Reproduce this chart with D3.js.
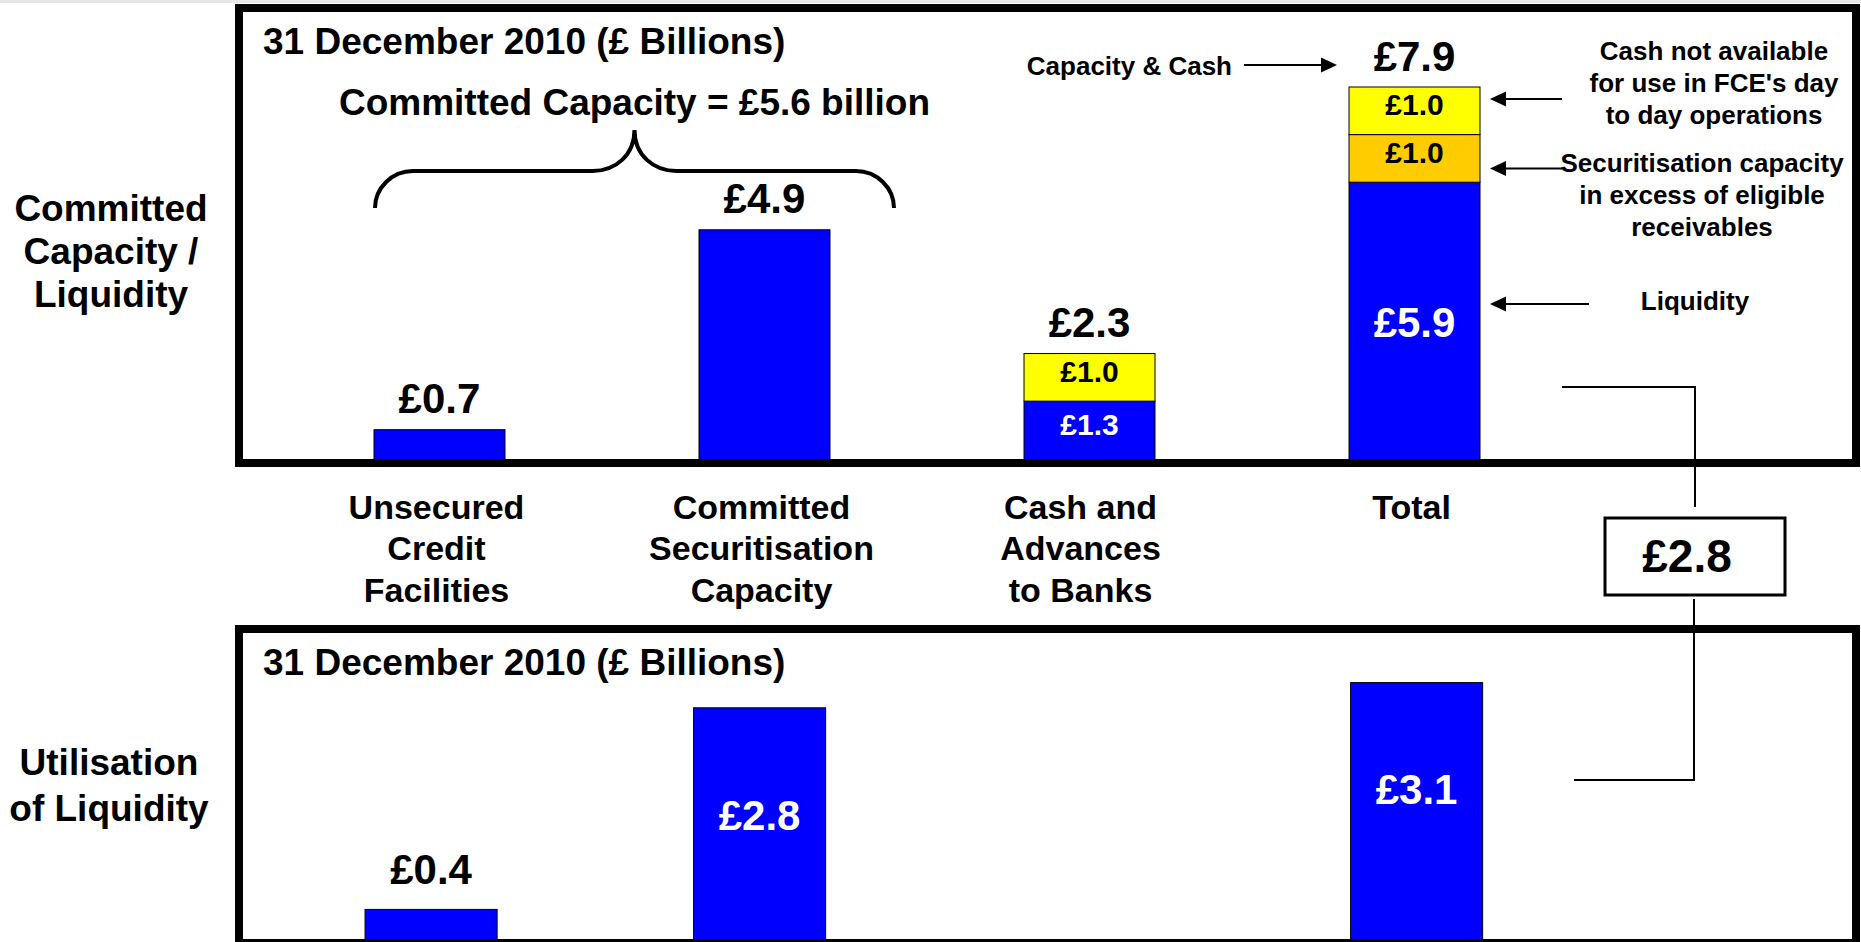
<!DOCTYPE html>
<html><head><meta charset="utf-8">
<script src="https://cdn.jsdelivr.net/npm/d3@7"></script>
<style>
html,body{margin:0;padding:0;background:#fff;overflow:hidden}
svg{display:block}
text{font-family:"Liberation Sans",Arial,Helvetica,sans-serif;font-weight:bold;fill:#000}
</style></head><body>
<svg id="chart" width="1861" height="942"></svg>
<script>
// ---------- data ----------
const categories = ["Unsecured Credit Facilities", "Committed Securitisation Capacity", "Cash and Advances to Banks", "Total"];
const categoryLines = [["Unsecured", "Credit", "Facilities"], ["Committed", "Securitisation", "Capacity"], ["Cash and", "Advances", "to Banks"], ["Total"]];
const liquidity = [0.7, 4.9, 1.3, 5.9];        // blue
const excessCapacity = [0, 0, 0, 1.0];         // orange: securitisation capacity in excess of eligible receivables
const restrictedCash = [0, 0, 1.0, 1.0];       // yellow: cash not available for day to day operations
const capacityTotals = [0.7, 4.9, 2.3, 7.9];
const utilisation = [0.4, 2.8, null, 3.1];
const headroom = 2.8;
const committedCapacity = 5.6;
const panelTitle = "31 December 2010 (£ Billions)";
const topPanelLabel = ["Committed", "Capacity /", "Liquidity"];
const bottomPanelLabel = ["Utilisation", "of Liquidity"];
const noteCash = ["Cash not available", "for use in FCE's day", "to day operations"];
const noteExcess = ["Securitisation capacity", "in excess of eligible", "receivables"];

// ---------- setup ----------
const W = 1861, H = 942;
const svg = d3.select("#chart");
const fmt = v => "£" + d3.format(".1f")(v);
svg.append("rect").attr("x", 0).attr("y", 0).attr("width", W).attr("height", 3).attr("fill", "#e6e6e6");

const xTop = d3.scaleBand().domain(categories).range([276.5, 1577.5]).paddingInner(0.597).paddingOuter(0.3);
const yTop = d3.scaleLinear().domain([0, 7.9]).range([463, 87]);
const xBot = d3.scaleBand().domain(categories).range([266.5, 1581.2]).paddingInner(0.598).paddingOuter(0.3);
const yBot = d3.scaleLinear().domain([0, 3.1]).range([943, 682.6]);

const colors = {liquidity: "#0000ff", excess: "#ffcc00", cash: "#ffff00"};
const rows = categories.map((c, i) => ({cat: c, liquidity: liquidity[i], excess: excessCapacity[i], cash: restrictedCash[i], n: [liquidity[i], excessCapacity[i], restrictedCash[i]].filter(v => v > 0).length}));
const series = d3.stack().keys(["liquidity", "excess", "cash"])(rows);

// ---------- top panel bars ----------
const gTop = svg.append("g");
series.forEach(s => {
  s.forEach(d => {
    const v = d[1] - d[0];
    if (v <= 0) return;
    gTop.append("rect")
      .attr("x", xTop(d.data.cat)).attr("width", xTop.bandwidth())
      .attr("y", yTop(d[1])).attr("height", yTop(d[0]) - yTop(d[1]))
      .attr("fill", colors[s.key]).attr("stroke", "#000").attr("stroke-width", 1);
    if (d.data.n > 1) {
      const top = yTop(d[1]), bot = Math.min(yTop(d[0]), 459);
      const big = (bot - top) > 150;
      gTop.append("text")
        .attr("x", xTop(d.data.cat) + xTop.bandwidth() / 2)
        .attr("y", (top + bot) / 2 + (big ? 2 : -6)).attr("dy", "0.35em")
        .attr("text-anchor", "middle")
        .style("font-size", big ? "42px" : "30px")
        .style("fill", s.key === "liquidity" ? "#fff" : "#000")
        .text(fmt(v));
    }
  });
});
// totals above bars
categories.forEach((c, i) => {
  gTop.append("text")
    .attr("x", xTop(c) + xTop.bandwidth() / 2)
    .attr("y", yTop(capacityTotals[i]) - 31).attr("dy", "0.35em")
    .attr("text-anchor", "middle").style("font-size", "42px")
    .text(fmt(capacityTotals[i]));
});
// panel frame
svg.append("rect").attr("x", 239).attr("y", 8).attr("width", 1617).attr("height", 455)
  .attr("fill", "none").attr("stroke", "#000").attr("stroke-width", 8);
svg.append("text").attr("x", 263).attr("y", 41).attr("dy", "0.35em").style("font-size", "37px").text(panelTitle);

// brace over the first two bars
const bl = xTop(categories[0]) + 1, br = xTop(categories[1]) + xTop.bandwidth() + 64, bm = (bl + br) / 2;
const by0 = 208, by1 = 171, by2 = 130;
const bp = d3.path();
bp.moveTo(bl, by0);
bp.bezierCurveTo(bl, by0 - 20, bl + 17, by1, bl + 38, by1);
bp.lineTo(bm - 42, by1);
bp.bezierCurveTo(bm - 19, by1, bm, by1 - 16, bm, by2);
bp.bezierCurveTo(bm, by1 - 16, bm + 19, by1, bm + 42, by1);
bp.lineTo(br - 38, by1);
bp.bezierCurveTo(br - 17, by1, br, by0 - 20, br, by0);
svg.append("path").attr("d", bp.toString()).attr("fill", "none").attr("stroke", "#000").attr("stroke-width", 4);
svg.append("text").attr("x", bm).attr("y", 102).attr("dy", "0.35em").attr("text-anchor", "middle")
  .style("font-size", "37px").text("Committed Capacity = " + fmt(committedCapacity) + " billion");

// ---------- category labels ----------
categories.forEach((c, i) => {
  const t = svg.append("text").attr("text-anchor", "middle").style("font-size", "34px");
  const shift = i === 2 ? -9 : -3;
  categoryLines[i].forEach((ln, j) => {
    t.append("tspan").attr("x", xTop(c) + xTop.bandwidth() / 2 + shift).attr("y", 507 + j * 41.5).attr("dy", "0.35em").text(ln);
  });
});

// left panel labels
topPanelLabel.forEach((ln, j) => {
  svg.append("text").attr("x", 111).attr("y", 208 + j * 43).attr("dy", "0.35em").attr("text-anchor", "middle").style("font-size", "37px").text(ln);
});
bottomPanelLabel.forEach((ln, j) => {
  svg.append("text").attr("x", 109).attr("y", 762 + j * 46).attr("dy", "0.35em").attr("text-anchor", "middle").style("font-size", "37px").text(ln);
});

// ---------- arrows & annotations ----------
function arrow(x1, x2, y) { // tip at x2
  const dir = x2 > x1 ? 1 : -1;
  svg.append("line").attr("x1", x1).attr("x2", x2 - dir * 12).attr("y1", y).attr("y2", y).attr("stroke", "#000").attr("stroke-width", 2);
  svg.append("path").attr("d", `M${x2},${y} L${x2 - dir * 16},${y - 7.5} L${x2 - dir * 16},${y + 7.5} Z`).attr("fill", "#000");
}
const totX = xTop("Total"), totR = totX + xTop.bandwidth();
svg.append("text").attr("x", 1232).attr("y", 66).attr("dy", "0.35em").attr("text-anchor", "end").style("font-size", "26px").text("Capacity & Cash");
arrow(1244, totX - 12, 65);

arrow(1562, totR + 10, yTop(7.9) + 12);
noteCash.forEach((ln, j) => svg.append("text").attr("x", 1714).attr("y", 51 + j * 32).attr("dy", "0.35em").attr("text-anchor", "middle").style("font-size", "26px").text(ln));
arrow(1562, totR + 10, (yTop(6.9) + yTop(5.9)) / 2 + 10);
noteExcess.forEach((ln, j) => svg.append("text").attr("x", 1702).attr("y", 163 + j * 32).attr("dy", "0.35em").attr("text-anchor", "middle").style("font-size", "26px").text(ln));
arrow(1589, totR + 10, 304);
svg.append("text").attr("x", 1695).attr("y", 301).attr("dy", "0.35em").attr("text-anchor", "middle").style("font-size", "26px").text("Liquidity");

// connector and headroom box
const conn = "#000";
svg.append("path").attr("d", "M1562,387 H1695 V507").attr("fill", "none").attr("stroke", conn).attr("stroke-width", 2);
svg.append("path").attr("d", "M1694,599 V780 H1574").attr("fill", "none").attr("stroke", conn).attr("stroke-width", 2);
svg.append("rect").attr("x", 1605).attr("y", 518).attr("width", 180).attr("height", 77).attr("fill", "#fff").attr("stroke", "#000").attr("stroke-width", 3);
svg.append("text").attr("x", 1687).attr("y", 556).attr("dy", "0.35em").attr("text-anchor", "middle").style("font-size", "46px").text(fmt(headroom));

// ---------- bottom panel ----------
const gBot = svg.append("g");
categories.forEach((c, i) => {
  const v = utilisation[i];
  if (v == null) return;
  gBot.append("rect").attr("x", xBot(c)).attr("width", xBot.bandwidth())
    .attr("y", yBot(v)).attr("height", yBot(0) - yBot(v))
    .attr("fill", colors.liquidity).attr("stroke", "#000").attr("stroke-width", 1);
  const h = yBot(0) - yBot(v);
  const inside = h > 60;
  gBot.append("text").attr("x", xBot(c) + xBot.bandwidth() / 2)
    .attr("y", inside ? yBot(v) + 107 : yBot(v) - 40).attr("dy", "0.35em")
    .attr("text-anchor", "middle").style("font-size", "42px")
    .style("fill", inside ? "#fff" : "#000").text(fmt(v));
});
svg.append("rect").attr("x", 239).attr("y", 629).attr("width", 1617).attr("height", 314)
  .attr("fill", "none").attr("stroke", "#000").attr("stroke-width", 8);
svg.append("text").attr("x", 263).attr("y", 662).attr("dy", "0.35em").style("font-size", "37px").text(panelTitle);
</script>
</body></html>
